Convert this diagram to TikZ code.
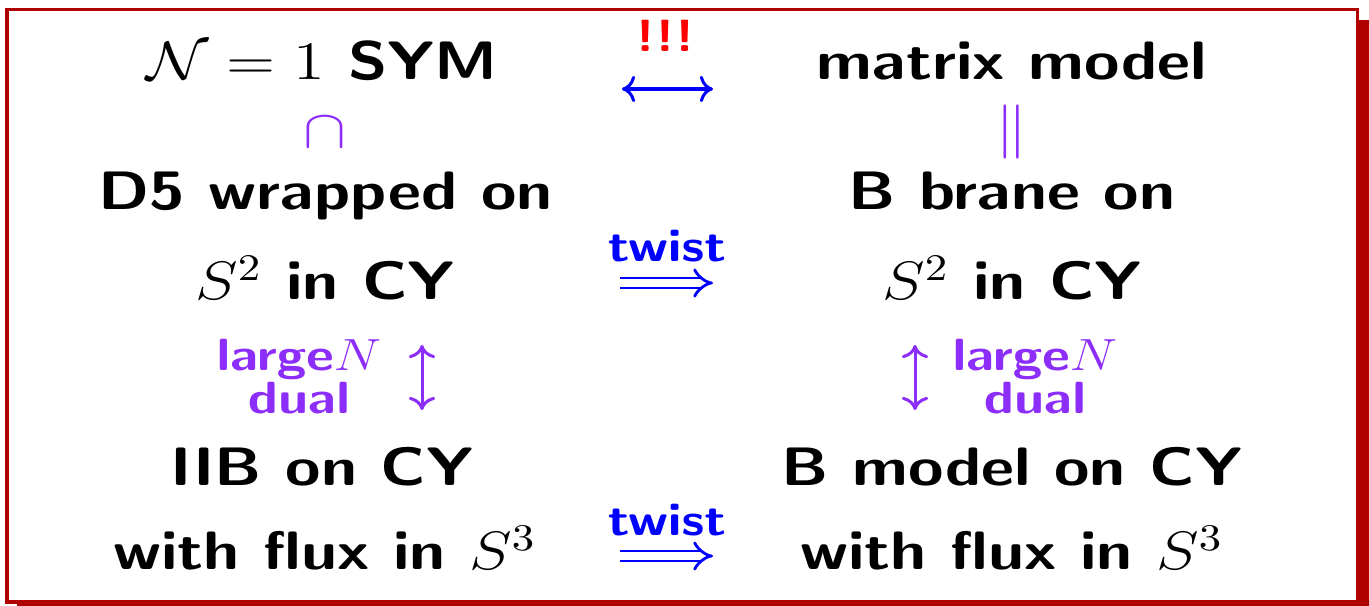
\documentclass[tikz,border=0pt]{standalone}
\usepackage{amsmath, graphicx}
\usetikzlibrary{arrows.meta}
\definecolor{framered}{RGB}{176,0,0}
\definecolor{dualviolet}{RGB}{140,45,250}
\newcommand\slidesans{\fontencoding{OT1}\fontfamily{cmss}\fontseries{bx}\fontshape{n}\selectfont}
\newcommand\wider[1]{\scalebox{1.19}[1]{#1}}

\begin{document}
\begin{tikzpicture}[x=0.00935cm, y=-0.00935cm,
    txt/.style={anchor=base, inner sep=0pt, font=\Large\slidesans},
    lbl/.style={anchor=base, inner sep=0pt, font=\large\slidesans},
    tip/.style={line width=0.8pt, {To[length=3.5pt,width=7pt]}-{To[length=3.5pt,width=7pt]}},
    twistarrow/.style={blue, double, double distance=1.9pt, line width=0.75pt, -{Implies}}]
  \useasboundingbox (0,0) rectangle (1369,606);
  % shadowed frame
  \fill[framered] (17,20) rectangle (1369,606);
  \draw[framered, fill=white, line width=0.8pt] (7,10) rectangle (1357,602);

  % top row
  \node[txt] (sym) at (322,80) {\wider{$\mathcal{N}=1$ SYM}};
  \node[txt] (mat) at (1012,80) {\wider{matrix model}};
  \node[lbl, red] (bang) at (665,52) {\wider{!!!}};
  \coordinate (eqa) at (622,89);
  \coordinate (eqb) at (713,89);
  \draw[blue, tip] (eqa) -- (eqb);

  \node[txt, dualviolet, font=\Large] (incl) at (325,148) {\wider{$\cap$}};
  \node[txt, dualviolet, font=\Large] (same) at (1012,146) {\wider{$\|$}};

  % branes
  \node[txt] (dfive) at (326,210) {\wider{D5 wrapped on}};
  \node[txt] (stwoL) at (325,300) {\wider{$S^2$ in CY}};
  \node[txt] (bbrane) at (1012,210) {\wider{B brane on}};
  \node[txt] (stwoR) at (1012,300) {\wider{$S^2$ in CY}};
  \node[lbl, blue] (twistA) at (667,262) {\wider{twist}};
  \coordinate (twa) at (620,283);
  \coordinate (twb) at (713,283);
  \draw[twistarrow] (twa) -- (twb);

  % large N duality
  \node[lbl, dualviolet] (largeL) at (299,370) {\wider{large$N$}};
  \node[lbl, dualviolet] (dualL) at (299,413) {\wider{dual}};
  \coordinate (dla) at (422,345);
  \coordinate (dlb) at (422,410);
  \draw[dualviolet, tip] (dla) -- (dlb);
  \node[lbl, dualviolet] (largeR) at (1035,370) {\wider{large$N$}};
  \node[lbl, dualviolet] (dualR) at (1035,413) {\wider{dual}};
  \coordinate (dra) at (915,345);
  \coordinate (drb) at (915,410);
  \draw[dualviolet, tip] (dra) -- (drb);

  % closed strings
  \node[txt] (iib) at (322,485) {\wider{IIB on CY}};
  \node[txt] (fluxL) at (325,570) {\wider{with flux in $S^3$}};
  \node[txt] (bmod) at (1012,485) {\wider{B model on CY}};
  \node[txt] (fluxR) at (1012,570) {\wider{with flux in $S^3$}};
  \node[lbl, blue] (twistB) at (667,535) {\wider{twist}};
  \coordinate (tbl) at (620,556);
  \coordinate (tbr) at (713,556);
  \draw[twistarrow] (tbl) -- (tbr);
\end{tikzpicture}
\end{document}
